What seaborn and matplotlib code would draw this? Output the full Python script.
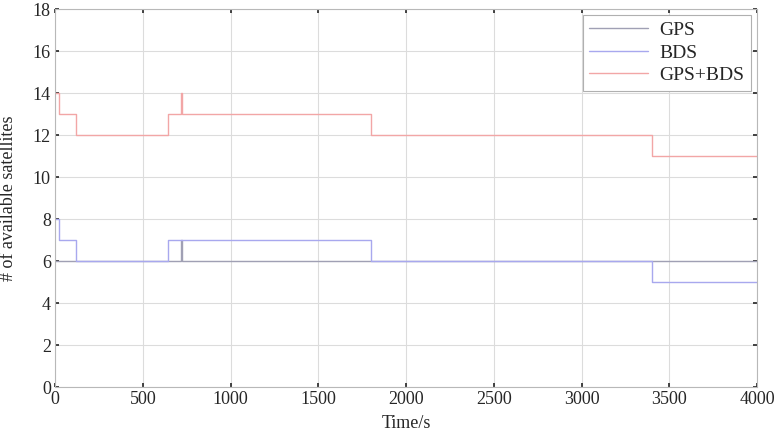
import pandas as pd
import matplotlib
matplotlib.use('Agg')
import matplotlib.pyplot as plt
from matplotlib.lines import Line2D
import seaborn as sns

# Available satellites over time (step changes)
gps_t = [0, 718, 723, 4000]
gps_n = [6, 7, 6, 6]
bds_t = [0, 23, 120, 644, 1800, 3400, 4000]
bds_n = [8, 7, 6, 7, 6, 5, 5]
both_t = [0, 23, 120, 644, 718, 723, 1800, 3400, 4000]
both_n = [14, 13, 12, 13, 14, 13, 12, 11, 11]

series = ['GPS', 'BDS', 'GPS+BDS']
colors = {'GPS': '#a0a0b4', 'BDS': '#a8a8ee', 'GPS+BDS': '#f2a6a6'}

df = pd.concat([
    pd.DataFrame({'t': gps_t, 'n': gps_n, 'sys': 'GPS'}),
    pd.DataFrame({'t': bds_t, 'n': bds_n, 'sys': 'BDS'}),
    pd.DataFrame({'t': both_t, 'n': both_n, 'sys': 'GPS+BDS'}),
], ignore_index=True)

sns.set_style('white')
plt.rcParams['font.family'] = ['Liberation Serif', 'DejaVu Serif']

fig = plt.figure(figsize=(7.79, 4.33), dpi=100)
ax = fig.add_axes([0.0706, 0.1062, 0.9012, 0.8730])

sns.lineplot(data=df, x='t', y='n', hue='sys', hue_order=series, palette=colors,
             drawstyle='steps-post', linewidth=1.0, estimator=None, sort=False,
             legend=False, ax=ax)

ax.set_xlim(0, 4000)
ax.set_ylim(0, 18)
ax.set_xticks(range(0, 4001, 500))
ax.set_yticks(range(0, 19, 2))
ax.grid(True, color='#dcdcdc', linewidth=0.8)
ax.set_axisbelow(True)
ax.tick_params(direction='in', length=3, width=1.2, color='#222222', labelsize=13,
               top=True, right=True, bottom=True, left=True, pad=3)
for s in ax.spines.values():
    s.set_color('#b8b8b8')
    s.set_linewidth(0.8)
ax.set_xlabel('Time/s', fontsize=13, labelpad=5)
ax.set_ylabel('# of available satellites', fontsize=13, labelpad=11)

handles = [Line2D([], [], color=colors[s], linewidth=1.0) for s in series]
leg = ax.legend(handles, series, loc='upper right', fontsize=14, frameon=True,
                fancybox=False, framealpha=1, edgecolor='#b0b0b0', handlelength=3.0,
                handletextpad=0.6, borderpad=0.35, borderaxespad=0.3,
                labelspacing=0.25)
leg.get_frame().set_linewidth(0.8)

fig.savefig('out.png', dpi=100)
